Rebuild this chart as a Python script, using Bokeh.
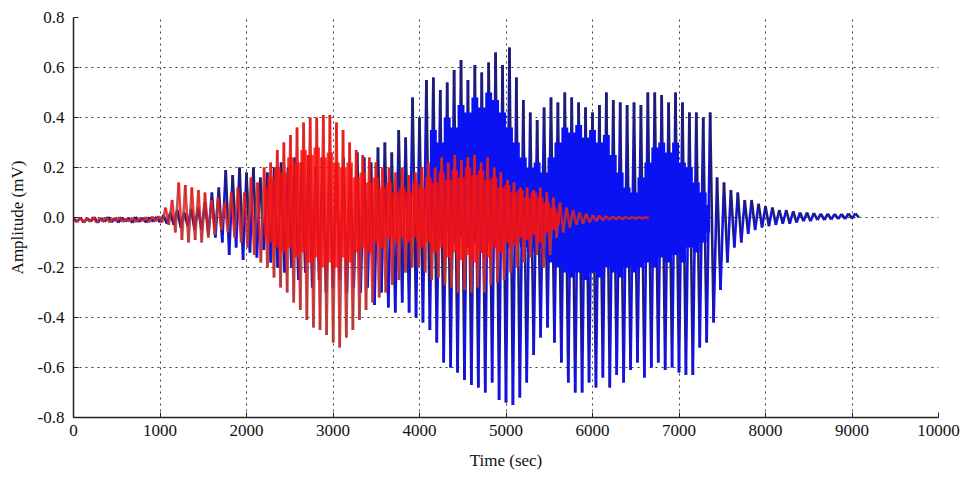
import numpy as np
from bokeh.plotting import figure
from bokeh.models import FixedTicker, PrintfTickFormatter, Range1d, ColumnDataSource
from bokeh.embed import file_html
from bokeh.resources import INLINE

# ---------------- data ----------------
x_ticks = [0, 1000, 2000, 3000, 4000, 5000, 6000, 7000, 8000, 9000, 10000]
y_ticks = [-0.8, -0.6, -0.4, -0.2, 0.0, 0.2, 0.4, 0.6, 0.8]

# blue signal: one oscillation cycle every blue_step seconds (peak, then trough)
blue_t0 = 0
blue_step = 80
blue_hi = [-0.003, 0.0, -0.004, 0.001, -0.002, 0.002, -0.003, 0.0, -0.002, 0.002,
           -0.001, 0.001, 0.003, 0.01, 0.02, 0.03, 0.02, 0.035, 0.04, 0.06,
           0.1, 0.12, 0.19, 0.17, 0.2, 0.18, 0.2, 0.16, 0.18, 0.2,
           0.22, 0.2, 0.24, 0.22, 0.25, 0.2, 0.24, 0.18, 0.22, 0.24,
           0.2, 0.26, 0.24, 0.22, 0.28, 0.3, 0.26, 0.35, 0.32, 0.48,
           0.4, 0.55, 0.56, 0.51, 0.54, 0.59, 0.63, 0.55, 0.61, 0.58,
           0.62, 0.66, 0.61, 0.68, 0.56, 0.47, 0.42, 0.39, 0.44, 0.48,
           0.46, 0.5, 0.48, 0.46, 0.44, 0.42, 0.45, 0.5, 0.47, 0.46,
           0.45, 0.46, 0.45, 0.5, 0.5, 0.49, 0.46, 0.5, 0.46, 0.42,
           0.42, 0.4, 0.42, 0.16, 0.14, 0.11, 0.1, 0.07, 0.07, 0.055,
           0.045, 0.04, 0.03, 0.03, 0.025, 0.02, 0.02, 0.018, 0.015, 0.015,
           0.014, 0.014, 0.016, 0.016]
blue_lo = [-0.018, -0.02, -0.016, -0.021, -0.017, -0.019, -0.02, -0.016, -0.021, -0.018,
           -0.02, -0.017, -0.019, -0.025, -0.03, -0.04, -0.035, -0.05, -0.05, -0.07,
           -0.08, -0.1, -0.15, -0.12, -0.17, -0.14, -0.16, -0.13, -0.18, -0.2,
           -0.22, -0.2, -0.25, -0.22, -0.28, -0.25, -0.3, -0.28, -0.25, -0.3,
           -0.28, -0.3, -0.28, -0.35, -0.3, -0.36, -0.38, -0.34, -0.38, -0.4,
           -0.42, -0.45, -0.5, -0.58, -0.6, -0.62, -0.65, -0.67, -0.68, -0.7,
           -0.66, -0.73, -0.74, -0.75, -0.72, -0.66, -0.55, -0.48, -0.44, -0.5,
           -0.58, -0.66, -0.7, -0.7, -0.66, -0.68, -0.64, -0.68, -0.63, -0.66,
           -0.61, -0.58, -0.64, -0.6, -0.58, -0.61, -0.6, -0.62, -0.63, -0.63,
           -0.52, -0.5, -0.42, -0.29, -0.18, -0.12, -0.1, -0.065, -0.05, -0.04,
           -0.035, -0.03, -0.025, -0.025, -0.02, -0.015, -0.015, -0.01, -0.01, -0.008,
           -0.006, -0.006, -0.004, 0.0]

# dense bright-blue core of the blue signal (one value per cycle)
blue_core_t0 = 4080
blue_core_step = 80
blue_core_hi = [0.2, 0.35, 0.3, 0.4, 0.36, 0.45, 0.42, 0.48, 0.44, 0.5,
                0.47, 0.42, 0.36, 0.3, 0.24, 0.2, 0.22, 0.18, 0.24, 0.3,
                0.36, 0.34, 0.37, 0.32, 0.35, 0.3, 0.33, 0.25, 0.18, 0.12,
                0.1, 0.16, 0.22, 0.28, 0.3, 0.26, 0.3, 0.22, 0.2, 0.14,
                0.1, 0.05]
blue_core_lo = [-0.05, -0.05, -0.08, -0.05, -0.1, -0.08, -0.12, -0.1, -0.14, -0.1,
                -0.12, -0.1, -0.12, -0.1, -0.12, -0.14, -0.12, -0.16, -0.18, -0.2,
                -0.22, -0.24, -0.22, -0.25, -0.22, -0.24, -0.2, -0.22, -0.24, -0.2,
                -0.22, -0.2, -0.18, -0.2, -0.16, -0.18, -0.15, -0.18, -0.12, -0.14,
                -0.1, -0.06]

# red signal
red_t0 = 0
red_step = 76
red_hi = [-0.002, 0.0, -0.004, 0.002, -0.003, 0.0, -0.002, 0.002, -0.004, 0.0,
          -0.003, 0.002, 0.004, 0.006, 0.04, 0.07, 0.14, 0.13, 0.12, 0.11,
          0.1, 0.07, 0.08, 0.06, 0.1, 0.12, 0.1, 0.16, 0.14, 0.2,
          0.22, 0.27, 0.3, 0.33, 0.36, 0.38, 0.4, 0.4, 0.41, 0.41,
          0.38, 0.35, 0.3, 0.27, 0.25, 0.24, 0.22, 0.2, 0.2, 0.18,
          0.2, 0.17, 0.18, 0.2, 0.22, 0.2, 0.24, 0.22, 0.25, 0.23,
          0.24, 0.25, 0.22, 0.24, 0.2, 0.18, 0.15, 0.14, 0.12, 0.12,
          0.11, 0.12, 0.1, 0.08, 0.06, 0.04, 0.03, 0.02, 0.015, 0.01,
          0.008, 0.006, 0.005, 0.004, 0.004, 0.003, 0.003, 0.002]
red_lo = [-0.018, -0.02, -0.016, -0.02, -0.017, -0.02, -0.015, -0.018, -0.016, -0.019,
          -0.015, -0.02, -0.016, -0.02, -0.03, -0.06, -0.09, -0.1, -0.09, -0.1,
          -0.08, -0.07, -0.05, -0.06, -0.08, -0.1, -0.12, -0.15, -0.18, -0.2,
          -0.24, -0.28, -0.3, -0.34, -0.37, -0.41, -0.44, -0.45, -0.47, -0.5,
          -0.52, -0.48, -0.45, -0.41, -0.37, -0.34, -0.32, -0.3, -0.27, -0.25,
          -0.22, -0.2, -0.2, -0.22, -0.25, -0.24, -0.27, -0.28, -0.3, -0.29,
          -0.3, -0.28, -0.3, -0.27, -0.26, -0.25, -0.22, -0.2, -0.18, -0.16,
          -0.15, -0.2, -0.15, -0.08, -0.06, -0.04, -0.03, -0.025, -0.02, -0.015,
          -0.012, -0.01, -0.008, -0.008, -0.006, -0.006, -0.005, -0.004]

# dense bright-red core of the red signal (one value per cycle)
red_core_t0 = 2204
red_core_step = 76
red_core_hi = [0.12, 0.16, 0.2, 0.18, 0.24, 0.22, 0.27, 0.25, 0.28, 0.24,
               0.26, 0.22, 0.2, 0.22, 0.16, 0.18, 0.14, 0.16, 0.12, 0.14,
               0.1, 0.12, 0.1, 0.14, 0.12, 0.16, 0.14, 0.18, 0.15, 0.19,
               0.16, 0.2, 0.17, 0.19, 0.15, 0.16, 0.12, 0.13, 0.1, 0.11,
               0.08, 0.1, 0.08, 0.06, 0.04, 0.02]
red_core_lo = [-0.08, -0.1, -0.12, -0.14, -0.12, -0.16, -0.14, -0.18, -0.16, -0.2,
               -0.18, -0.2, -0.16, -0.18, -0.14, -0.12, -0.14, -0.1, -0.12, -0.08,
               -0.1, -0.08, -0.1, -0.08, -0.12, -0.1, -0.14, -0.12, -0.16, -0.14,
               -0.17, -0.15, -0.18, -0.14, -0.16, -0.12, -0.14, -0.1, -0.11, -0.08,
               -0.09, -0.07, -0.1, -0.06, -0.05, -0.03]


def zigzag(t0, step, hi, lo):
    xs, ys = [], []
    for i, (h, l) in enumerate(zip(hi, lo)):
        t = t0 + i * step
        xs += [t, t + step / 2.0]
        ys += [h, l]
    return xs, ys


def strokes(xs, ys, c1, c2):
    n = len(xs) - 1
    return ColumnDataSource(dict(
        x0=xs[:-1], y0=ys[:-1], x1=xs[1:], y1=ys[1:],
        c=[c1 if k % 2 == 0 else c2 for k in range(n)]))


def core_times(t0, step, n):
    return [t0 + k * step for k in range(n)]


SERIF = "Liberation Serif"

p = figure(width=960, height=477, output_backend="svg", toolbar_location=None,
           x_range=Range1d(0, 10000), y_range=Range1d(-0.8, 0.8),
           min_border_left=73, min_border_right=22, min_border_top=17,
           min_border_bottom=60)
p.outline_line_color = None
p.background_fill_color = "white"

bx, by = zigzag(blue_t0, blue_step, blue_hi, blue_lo)
p.segment("x0", "y0", "x1", "y1", source=strokes(bx, by, "#1e1e6c", "#1212e6"),
          line_color="c", line_width=2.6)
p.varea_step(x=core_times(blue_core_t0, blue_core_step, len(blue_core_hi)),
             y1=blue_core_lo, y2=blue_core_hi, step_mode="center",
             fill_color="#0a12f2")

rx, ry = zigzag(red_t0, red_step, red_hi, red_lo)
p.segment("x0", "y0", "x1", "y1", source=strokes(rx, ry, "#f41414", "#a83c3c"),
          line_color="c", line_width=2.6, line_alpha=0.85)
p.varea_step(x=core_times(red_core_t0, red_core_step, len(red_core_hi)),
             y1=red_core_lo, y2=red_core_hi, step_mode="center",
             fill_color="#fa1010", fill_alpha=0.82)

# axes
p.xaxis.ticker = FixedTicker(ticks=x_ticks)
p.yaxis.ticker = FixedTicker(ticks=y_ticks)
p.yaxis.formatter = PrintfTickFormatter(format="%.1f")
p.xaxis.axis_label = "Time (sec)"
p.yaxis.axis_label = "Amplitude (mV)"
for ax in (p.xaxis, p.yaxis):
    ax.axis_line_color = "#222222"
    ax.axis_line_width = 1.5
    ax.major_tick_in = 5
    ax.major_tick_out = 0
    ax.minor_tick_line_color = None
    ax.major_tick_line_color = "#222222"
    ax.major_label_text_font = SERIF
    ax.major_label_text_font_size = "17px"
    ax.major_label_text_color = "#111111"
    ax.axis_label_text_font = SERIF
    ax.axis_label_text_font_size = "17px"
    ax.axis_label_text_font_style = "normal"
    ax.axis_label_text_color = "#111111"
p.xaxis.major_label_standoff = 7
p.yaxis.major_label_standoff = 9
p.xaxis.axis_label_standoff = 12
p.yaxis.axis_label_standoff = 8

for g in (p.xgrid, p.ygrid):
    g.grid_line_color = "#222222"
    g.grid_line_dash = "2 4"
    g.grid_line_width = 1
    g.grid_line_alpha = 0.9

open("out.html", "w").write(file_html(p, INLINE))
